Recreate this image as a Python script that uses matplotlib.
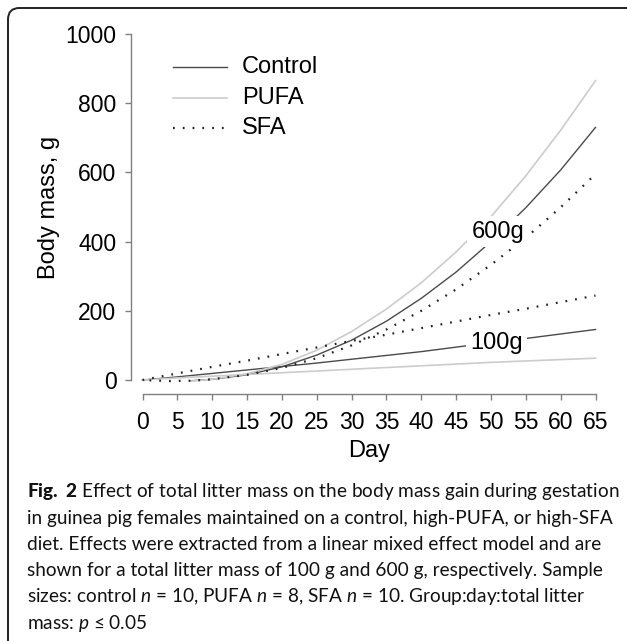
import matplotlib
matplotlib.use("Agg")
import matplotlib.pyplot as plt
from matplotlib.patches import FancyBboxPatch

# ---- data ----
days_100 = [0, 5, 10, 15, 20, 25, 30, 35, 40, 45, 50, 55, 60, 65]
control_100 = [0, 9, 19, 29, 39, 49, 60, 71, 82, 95, 108, 120, 133, 146]
pufa_100 = [0, 6, 11, 16, 21, 26, 31, 36, 41, 46, 51, 55, 59, 63]
sfa_100 = [0, 19, 38, 56, 75, 94, 113, 131, 150, 169, 188, 206, 225, 244]

days_600 = [7, 10, 15, 20, 25, 30, 35, 40, 45, 50, 55, 60, 65]
control_600 = [-2, 2, 15, 38, 72, 115, 170, 236, 312, 400, 498, 607, 730]
pufa_600 = [-3, 2, 18, 45, 86, 140, 205, 281, 370, 472, 590, 722, 865]
days_sfa_600 = [1, 4, 7, 10, 15, 20, 25, 30, 35, 40, 45, 50, 55, 60, 65]
sfa_600 = [-1, -3, -2, 2, 15, 35, 63, 100, 146, 200, 262, 333, 411, 499, 595]

x_ticks = list(range(0, 70, 5))
y_ticks = [0, 200, 400, 600, 800, 1000]
legend_labels = ["Control", "PUFA", "SFA"]

caption_lines = [
    r"$\mathbf{Fig.}$ $\mathbf{2}$ Effect of total litter mass on the body mass gain during gestation",
    "in guinea pig females maintained on a control, high-PUFA, or high-SFA",
    "diet. Effects were extracted from a linear mixed effect model and are",
    "shown for a total litter mass of 100 g and 600 g, respectively. Sample",
    r"sizes: control $n$ = 10, PUFA $n$ = 8, SFA $n$ = 10. Group:day:total litter",
    r"mass: $p$ ≤ 0.05",
]

W, H = 627, 641
plt.rcParams["font.family"] = ["Liberation Sans", "DejaVu Sans"]
plt.rcParams["mathtext.fontset"] = "custom"
plt.rcParams["mathtext.rm"] = "Lato"
plt.rcParams["mathtext.it"] = "Lato:italic"
plt.rcParams["mathtext.bf"] = "Lato:black"

fig = plt.figure(figsize=(W / 100, H / 100), dpi=100)

# rounded frame (runs off the right and bottom edges)
frame = FancyBboxPatch((8 / W, -30 / H), 650 / W, (H - 8 + 30) / H,
                       boxstyle="round,pad=0,rounding_size=0.018",
                       transform=fig.transFigure, facecolor="none",
                       edgecolor="#222222", linewidth=1.4)
fig.patches.append(frame)

# axes: x 0..65 -> px 142.5..595.5, y 0..1000 -> px 380..34
ax = fig.add_axes([142.5 / W, 1 - 380 / H, 453 / W, 346 / H])
ax.set_xlim(0, 65)
ax.set_ylim(0, 1000)

dark = "#4a4a4a"
light = "#cccccc"
dots = (0, (0.8, 3.6))
kw = dict(clip_on=False)
ax.plot(days_100, control_100, color=dark, lw=1.0, **kw)
ax.plot(days_600, control_600, color=dark, lw=1.0, **kw)
ax.plot(days_100, pufa_100, color=light, lw=1.2, **kw)
ax.plot(days_600, pufa_600, color=light, lw=1.2, **kw)
ax.plot(days_100, sfa_100, color="#222222", lw=1.6, ls=dots, **kw)
ax.plot(days_sfa_600, sfa_600, color="#222222", lw=1.6, ls=dots, **kw)

box = dict(facecolor="white", edgecolor="none", pad=3)
ax.text(51, 429, "600g", fontsize=17, ha="center", va="center", bbox=box)
ax.text(50.8, 106, "100g", fontsize=17, ha="center", va="center", bbox=box)

# legend drawn by hand in axes fraction
leg_y = [(380 - 67) / 346, (380 - 98) / 346, (380 - 128) / 346]
leg_styles = [dict(color=dark, lw=1.0), dict(color=light, lw=1.2),
              dict(color="#222222", lw=1.6, ls=dots)]
for yy, lab, st in zip(leg_y, legend_labels, leg_styles):
    ax.plot([(173 - 142.5) / 453, (227 - 142.5) / 453], [yy, yy],
            transform=ax.transAxes, clip_on=False, **st)
    ax.text((242 - 142.5) / 453, yy, lab, transform=ax.transAxes,
            fontsize=17, va="center", ha="left")

for side in ["top", "right"]:
    ax.spines[side].set_visible(False)
axis_col = "#808080"
ax.spines["left"].set_position(("outward", 8.3))
ax.spines["bottom"].set_position(("outward", 10.1))
ax.spines["left"].set_bounds(0, 1000)
ax.spines["bottom"].set_bounds(0, 65)
for s in ["left", "bottom"]:
    ax.spines[s].set_color(axis_col)
    ax.spines[s].set_linewidth(1.0)
ax.set_xticks(x_ticks)
ax.set_yticks(y_ticks)
ax.tick_params(axis="both", colors=axis_col, labelcolor="black",
               labelsize=16.5, length=4.5, width=1.0)
ax.tick_params(axis="y", pad=6)
ax.tick_params(axis="x", pad=8)
ax.set_xlabel("Day", fontsize=17, labelpad=4)
ax.set_ylabel("Body mass, g", fontsize=17, labelpad=4)

# caption
cap_font = ["Lato", "DejaVu Sans"]
y0 = 492
for i, line in enumerate(caption_lines):
    fig.text(27 / W, 1 - (y0 + 26.2 * i) / H, line, fontsize=13.7,
             family=cap_font, ha="left", va="center", color="#111111")

fig.savefig("out.png", dpi=100)
